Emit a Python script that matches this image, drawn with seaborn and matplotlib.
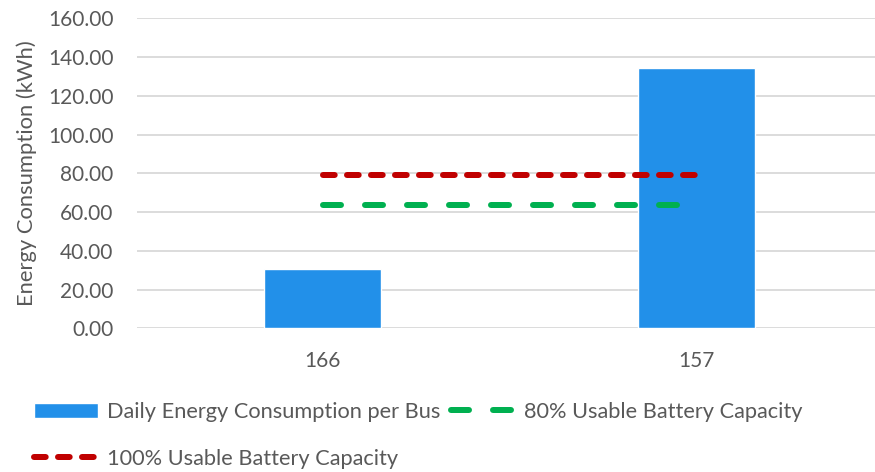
import matplotlib
matplotlib.use("Agg")
import matplotlib.pyplot as plt
import seaborn as sns
import pandas as pd

# Route numbers and daily energy per bus (kWh)
routes = ["166", "157"]
energy_kwh = [30.8, 134.2]

# Battery capacity reference levels (kWh)
capacity_100 = [79.2, 79.2]
capacity_80 = [63.4, 63.4]

series_labels = [
    "Daily Energy Consumption per Bus",
    "80% Usable Battery Capacity",
    "100% Usable Battery Capacity",
]
y_ticks = [0, 20, 40, 60, 80, 100, 120, 140, 160]

BAR_BLUE = "#2290E9"
RED = "#C00000"
GREEN = "#00B050"
TEXT = "#595959"
GRID = "#D9D9D9"

sns.set_theme(style="white")
plt.rcParams["font.family"] = ["Lato", "DejaVu Sans"]
plt.rcParams["text.color"] = TEXT

FS = 15

fig = plt.figure(figsize=(8.75, 4.72), dpi=100)
ax = fig.add_axes([137 / 875, (472 - 328.3) / 472, (875 - 137) / 875, 310 / 472])

df = pd.DataFrame({"route": routes, "energy": energy_kwh})
sns.barplot(data=df, x="route", y="energy", color=BAR_BLUE, saturation=1,
            width=0.313, ax=ax, zorder=2, label=series_labels[0])

lw = 4.32
pos = list(range(len(routes)))
sns.lineplot(x=pos, y=capacity_100, color=RED, lw=lw, linestyle=(0, (1.95, 2.05)),
             dash_capstyle="round", ax=ax, zorder=3, label=series_labels[2])
sns.lineplot(x=pos, y=capacity_80, color=GREEN, lw=lw, linestyle=(0, (3.0, 4.0)),
             dash_capstyle="round", ax=ax, zorder=3, label=series_labels[1])

ax.set_ylim(0, 160)
ax.set_xlim(-0.497, 1.476)
ax.set_yticks(y_ticks)
ax.set_yticklabels([f"{v:.2f}" for v in y_ticks])
ax.yaxis.grid(True, color=GRID, lw=1.3, zorder=0)
ax.set_axisbelow(True)
for s in ax.spines.values():
    s.set_visible(False)
ax.tick_params(axis="y", length=0, pad=17, labelsize=FS, labelcolor=TEXT)
ax.tick_params(axis="x", length=0, pad=16, labelsize=FS, labelcolor=TEXT)
ax.set_xlabel("")
ax.set_ylabel("Energy Consumption (kWh)", fontsize=15.8, color=TEXT)
ax.yaxis.set_label_coords(-100 / 738, 0.5)

handles, labels = ax.get_legend_handles_labels()
lookup = dict(zip(labels, handles))
order = [series_labels[0], series_labels[2], series_labels[1]]
if ax.get_legend():
    ax.get_legend().remove()
fig.legend([lookup[l] for l in order], order, ncol=2, loc="upper left",
           bbox_to_anchor=(34 / 875, 1 - 402 / 472), frameon=False,
           fontsize=15.7, handlelength=2.95, handletextpad=0.42,
           columnspacing=0.45, labelspacing=1.22, borderpad=0, borderaxespad=0,
           labelcolor=TEXT)

fig.savefig("out.png", dpi=100)
